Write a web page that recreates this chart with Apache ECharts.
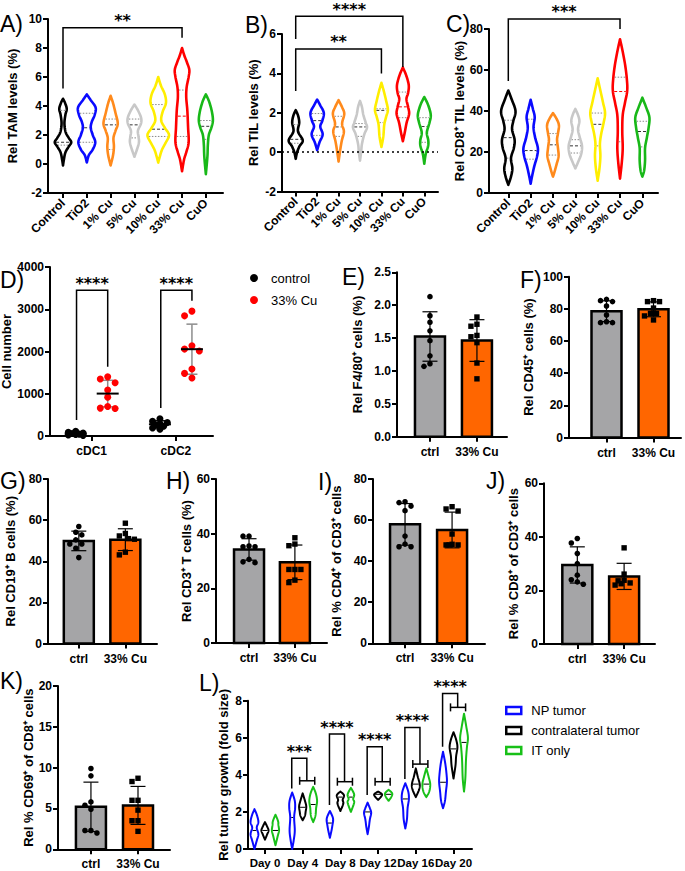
<!DOCTYPE html>
<html><head><meta charset="utf-8">
<script src="https://cdn.jsdelivr.net/npm/echarts@6/dist/echarts.min.js"></script>
<style>html,body{margin:0;padding:0;background:#fff}#c{width:685px;height:871px}</style>
</head><body><div id="c"></div>
<script>
const FONT = '"Liberation Sans", Arial, Helvetica, sans-serif';

// ---------- Panels A-C: violin categories ----------
const violinCats = ['Control', 'TiO2', '1% Cu', '5% Cu', '10% Cu', '33% Cu', 'CuO'];
const violinColors = ['#000000', '#0a0aff', '#ff8a1c', '#c8c8c8', '#ffee00', '#ff0000', '#18b818'];

// violin outlines: [value, relative half-width]
const tamProfiles = [
  [[4.5,0],[4.2,0.19],[3.8,0.34],[3.4,0.22],[2.8,0.13],[2.2,0.24],[1.8,0.52],[1.5,0.75],[1.2,0.52],[0.8,0.22],[0.3,0.08],[-0.1,0]],
  [[4.8,0],[4.4,0.36],[3.9,0.8],[3.4,0.72],[2.9,0.45],[2.5,0.36],[2.0,0.54],[1.5,0.77],[1.0,0.54],[0.6,0.18],[0.1,0]],
  [[4.7,0],[4.2,0.22],[3.5,0.45],[2.8,0.65],[2.3,0.45],[1.8,0.26],[1.2,0.3],[0.6,0.22],[-0.1,0]],
  [[4.1,0],[3.7,0.32],[3.2,0.6],[2.8,0.6],[2.3,0.32],[1.9,0.37],[1.5,0.41],[1.0,0.23],[0.5,0]],
  [[6.0,0],[5.4,0.25],[4.8,0.6],[4.2,0.7],[3.6,0.4],[3.0,0.27],[2.5,0.6],[2.0,0.98],[1.5,0.7],[1.0,0.35],[0.5,0.14],[0.1,0]],
  [[8.0,0],[7.5,0.2],[7.0,0.45],[6.5,0.66],[6.0,0.6],[5.3,0.42],[4.6,0.38],[3.7,0.48],[2.5,0.55],[1.5,0.6],[0.8,0.38],[0.3,0.18],[-0.5,0]],
  [[4.8,0],[4.3,0.3],[3.6,0.55],[3.0,0.64],[2.5,0.5],[2.0,0.27],[1.3,0.18],[0.5,0.14],[-0.7,0]]
];
const tamMedian = [1.5, 2.5, 2.7, 2.7, 2.4, 3.3, 2.6];
const tamQ1 = [1.3, 1.5, 1.0, 1.8, 1.9, 1.9, 1.7];
const tamQ3 = [3.7, 3.5, 3.1, 3.1, 4.1, 5.1, 3.0];

const tilProfiles = [
  [[2.13,0],[1.85,0.25],[1.5,0.37],[1.05,0.24],[0.6,0.74],[0.3,0.4],[0.0,0.15],[-0.34,0]],
  [[2.67,0],[2.4,0.3],[2.0,0.7],[1.6,0.55],[1.3,0.33],[0.9,0.58],[0.5,0.25],[0.1,0]],
  [[2.64,0],[2.3,0.35],[1.95,0.6],[1.45,0.37],[1.05,0.56],[0.6,0.35],[0.2,0.2],[-0.48,0]],
  [[2.6,0],[2.3,0.2],[1.9,0.35],[1.5,0.6],[1.25,0.74],[0.9,0.45],[0.4,0.2],[0.0,0.12],[-0.43,0]],
  [[3.52,0],[3.1,0.25],[2.6,0.5],[2.15,0.68],[1.8,0.5],[1.4,0.3],[0.8,0.2],[0.26,0]],
  [[4.3,0],[3.9,0.35],[3.4,0.62],[3.0,0.55],[2.7,0.38],[2.3,0.55],[1.95,0.66],[1.5,0.4],[1.0,0.2],[0.55,0]],
  [[2.8,0],[2.4,0.4],[1.9,0.68],[1.5,0.55],[1.0,0.27],[0.6,0.42],[0.3,0.4],[-0.1,0.15],[-0.59,0]]
];
const tilMedian = [0.65, 1.6, 1.28, 1.28, 2.12, 2.3, 1.3];
const tilQ1 = [0.45, 0.85, 0.8, 0.8, 1.5, 1.75, 0.5];
const tilQ3 = [1.4, 1.96, 1.82, 1.45, 2.2, 3.05, 1.75];

const cd8Profiles = [
  [[50,0],[46,0.35],[40,0.8],[35,0.55],[31,0.42],[26,0.7],[22,0.62],[17,0.3],[12,0.45],[8,0.3],[4,0]],
  [[45.5,0],[41,0.25],[37,0.45],[32,0.32],[27,0.5],[22,0.8],[18,0.72],[13,0.4],[8,0.15],[4.5,0]],
  [[39,0],[36,0.42],[33,0.66],[29,0.55],[26,0.45],[22,0.55],[18,0.62],[14,0.4],[10,0.15],[8,0]],
  [[41,0],[38,0.3],[35,0.45],[31,0.3],[27,0.5],[23,0.74],[19,0.65],[15,0.3],[12,0]],
  [[56,0],[50,0.3],[44,0.6],[39,0.82],[34,0.65],[29,0.4],[24,0.25],[18,0.3],[12,0.2],[6,0]],
  [[75,0],[70,0.25],[63,0.55],[56,0.75],[50,0.8],[44,0.55],[38,0.3],[30,0.25],[22,0.3],[15,0.2],[7,0]],
  [[46.5,0],[42,0.4],[37,0.78],[32,0.7],[27,0.5],[22,0.3],[16,0.3],[11,0.2],[8,0]]
];
const cd8Median = [27, 20.7, 23.5, 23, 33.5, 49.5, 30];
const cd8Q1 = [17, 16.5, 18.5, 19.5, 23, 25, 22.5];
const cd8Q3 = [35.5, 36, 29, 26, 39, 56.5, 35];

// ---------- Panel D ----------
const dcCats = ['cDC1', 'cDC2'];
const dcControl = [[110, 90, 70, 60, 45, 35, 25, 15], [410, 350, 320, 290, 260, 230, 190, 160]];
const dcCu = [[1400, 1350, 1260, 1090, 920, 700, 660, 650], [2955, 2844, 2135, 2057, 2010, 1584, 1482, 1371]];

// ---------- Panels E-K ----------
const barCats = ['ctrl', '33% Cu'];
const f480Ctrl = [2.13, 1.84, 1.74, 1.61, 1.46, 1.23, 1.07, 1.11];
const f480Cu = [1.82, 1.71, 1.68, 1.54, 1.52, 1.43, 1.12, 0.88];
const cd45Ctrl = [85.9, 85.1, 84.5, 81.8, 76.2, 72.0, 71.4, 71.4];
const cd45Cu = [85.1, 84.5, 84.5, 80.5, 77.2, 77.2, 75.6, 73.1];
const cd19Ctrl = [56.9, 54.1, 52.8, 50.4, 48.4, 48.4, 46.3, 41.8];
const cd19Cu = [58.5, 53.5, 52.3, 51.0, 50.7, 44.4, 43.1];
const cd3Ctrl = [39.1, 39.1, 35.5, 35.2, 35.2, 30.6, 29.7, 29.4];
const cd3Cu = [38.5, 36.2, 35.6, 26.9, 26.9, 26.9, 23.0, 22.1];
const cd4Ctrl = [68.9, 68.5, 66.8, 64.6, 52.2, 48.3, 47.0, 47.0];
const cd4Cu = [66.5, 65.4, 64.4, 53.2, 48.2, 47.9, 47.9, 47.9];
const cd8of3Ctrl = [39.4, 37.7, 33.8, 30.0, 25.7, 24.0, 23.2, 22.3];
const cd8of3Cu = [35.9, 26.1, 23.8, 23.6, 22.8, 22.5, 22.0];
const cd69Ctrl = [9.9, 9.0, 5.8, 5.4, 4.9, 2.3, 2.3, 2.0];
const cd69Cu = [8.7, 8.3, 6.0, 6.0, 4.8, 3.5, 3.5, 2.2];

// ---------- Panel L ----------
const days = ['Day 0', 'Day 4', 'Day 8', 'Day 12', 'Day 16', 'Day 20'];
const growthGroups = ['NP tumor', 'contralateral tumor', 'IT only'];
const growthColors = ['#0a0aff', '#000000', '#18c018'];
const growthNP = [
  [[2.15,0],[1.8,0.4],[1.45,0.6],[1.15,0.35],[0.8,0.6],[0.45,0.35],[0.0,0]],
  [[3.05,0],[2.6,0.4],[2.2,0.45],[1.7,0.3],[1.0,0.4],[0.5,0.25],[0.0,0]],
  [[2.05,0],[1.75,0.4],[1.55,0.5],[1.3,0.4],[1.0,0.25],[0.6,0]],
  [[2.5,0],[2.2,0.35],[1.95,0.55],[1.6,0.35],[1.2,0.2],[0.8,0]],
  [[3.55,0],[3.1,0.45],[2.7,0.55],[2.2,0.35],[1.6,0.25],[1.1,0]],
  [[5.25,0],[4.6,0.35],[4.0,0.55],[3.6,0.6],[3.1,0.45],[2.6,0.3],[2.2,0]]
];
const growthContra = [
  [[1.45,0],[1.2,0.35],[1.0,0.55],[0.8,0.35],[0.5,0]],
  [[3.0,0],[2.6,0.35],[2.3,0.55],[2.0,0.45],[1.8,0.35],[1.55,0]],
  [[3.1,0],[2.9,0.55],[2.65,0.35],[2.45,0.45],[2.05,0]],
  [[3.1,0],[2.95,0.6],[2.8,0.4],[2.65,0]],
  [[4.35,0],[3.9,0.3],[3.5,0.6],[3.2,0.5],[2.8,0]],
  [[6.3,0],[5.9,0.4],[5.5,0.6],[5.0,0.4],[4.5,0.3],[3.8,0]]
];
const growthIT = [
  [[1.85,0],[1.5,0.4],[1.3,0.45],[1.0,0.55],[0.7,0.35],[0.2,0]],
  [[3.35,0],[3.0,0.4],[2.6,0.6],[2.2,0.45],[1.8,0.35],[1.45,0]],
  [[3.3,0],[2.95,0.5],[2.7,0.35],[2.5,0.5],[2.0,0]],
  [[3.2,0],[3.0,0.55],[2.8,0.4],[2.6,0]],
  [[4.35,0],[3.9,0.35],[3.5,0.6],[3.1,0.45],[2.8,0]],
  [[7.3,0],[6.6,0.35],[6.0,0.6],[5.5,0.45],[4.8,0.3],[3.8,0.2],[3.1,0]]
];
const growthNPMed = [1.0, 1.7, 1.4, 2.0, 2.7, 3.6];
const growthContraMed = [1.0, 2.25, 2.8, 2.95, 3.5, 5.4];
const growthITMed = [1.0, 2.4, 2.8, 2.95, 3.5, 5.75];

// significance brackets
const sigA = [{x0: 0, x1: 5, y0: 5.2, top: 9.4, y1: 8.7, label: '**'}];
const sigB = [{x0: 0, x1: 5, y0: 5.75, top: 6.9, y1: 4.32, label: '****'},
              {x0: 0, x1: 4, y0: 3.1, top: 5.24, y1: 4.0, label: '**'}];
const sigC = [{x0: 0, x1: 5, y0: 54.6, top: 84.9, y1: 80, label: '***'}];
const sigD = [{x0: 0.82, x1: 1.19, y0: 380, top: 3450, y1: 1640, label: '****'},
              {x0: 1.82, x1: 2.19, y0: 660, top: 3450, y1: 3200, label: '****'}];
const growthSigDays = [1, 2, 3, 4, 5];
const growthSigLabels = ['***', '****', '****', '****', '****'];
const growthSigLow = [3.27, 2.37, 2.91, 3.77, 5.52];
const growthSigTop = [4.89, 6.2, 5.52, 6.56, 8.39];
const growthSigCap = [3.68, 3.63, 3.63, 4.58, 7.64];

// ---------- helpers ----------
const mean = a => a.reduce((s, v) => s + v, 0) / a.length;
const sd = a => { const m = mean(a); return Math.sqrt(a.reduce((s, v) => s + (v - m) * (v - m), 0) / (a.length - 1)); };
function cr(p0, p1, p2, p3, t) {
  const t2 = t * t, t3 = t2 * t;
  return 0.5 * ((2 * p1) + (-p0 + p2) * t + (2 * p0 - 5 * p1 + 4 * p2 - p3) * t2 + (-p0 + 3 * p1 - 3 * p2 + p3) * t3);
}
function smoothOutline(pts) {
  const out = [], n = pts.length;
  for (let i = 0; i < n - 1; i++) {
    const p0 = pts[Math.max(i - 1, 0)], p1 = pts[i], p2 = pts[i + 1], p3 = pts[Math.min(i + 2, n - 1)];
    for (let s = 0; s < 10; s++) {
      const t = s / 10;
      out.push([Math.max(0, cr(p0[0], p1[0], p2[0], p3[0], t)), cr(p0[1], p1[1], p2[1], p3[1], t)]);
    }
  }
  out.push(pts[n - 1]);
  return out;
}
function widthAt(dense, y) {
  for (let i = 0; i < dense.length - 1; i++) {
    const a = dense[i], b = dense[i + 1];
    if ((y >= a[1] && y <= b[1]) || (y <= a[1] && y >= b[1])) {
      const t = b[1] === a[1] ? 0 : (y - a[1]) / (b[1] - a[1]);
      return a[0] + (b[0] - a[0]) * t;
    }
  }
  return 0;
}
// compact dot arrangement limited to +-spread px; overlaps allowed when crowded
function swarm(ys, d, spread) {
  const order = ys.map((y, i) => i).sort((a, b) => ys[a] - ys[b]);
  const xs = new Array(ys.length).fill(0);
  const placed = [];
  const cands = [0];
  for (let k = 1; k * d / 2 <= spread + 0.01; k++) cands.push(-k * d / 2, k * d / 2);
  order.forEach(i => {
    let best = 0, bestScore = -1;
    for (const c of cands) {
      const md = placed.length ? Math.min(...placed.map(p => Math.hypot(p[0] - c, p[1] - ys[i]))) : Infinity;
      if (md >= d * 0.97) { best = c; bestScore = Infinity; break; }
      if (md > bestScore + 0.3) { best = c; bestScore = md; }
    }
    xs[i] = best; placed.push([best, ys[i]]);
  });
  return xs;
}

// ---------- layout ----------
const G = [
  {l: 48, t: 19, w: 175, h: 174, xmin: -0.63, xmax: 6.72},
  {l: 282, t: 34, w: 156, h: 157.5, xmin: -0.64, xmax: 6.64},
  {l: 489, t: 29, w: 169, h: 164, xmin: -0.864, xmax: 6.70},
  {l: 50, t: 267, w: 163, h: 169, xmin: 0.505, xmax: 2.44},
  {l: 397, t: 272.3, w: 110, h: 164.4, xmin: 0.298, xmax: 2.64},
  {l: 569, t: 276.7, w: 112, h: 160.8, xmin: 0.202, xmax: 2.585},
  {l: 48, t: 479, w: 109, h: 164.5, xmin: 0.338, xmax: 2.68},
  {l: 216, t: 479, w: 111, h: 164, xmin: 0.28, xmax: 2.70},
  {l: 373, t: 479, w: 112, h: 164.3, xmin: 0.319, xmax: 2.70},
  {l: 544, t: 483.3, w: 111, h: 160.7, xmin: 0.288, xmax: 2.66},
  {l: 58, t: 686, w: 112, h: 163.3, xmin: 0.30, xmax: 2.68},
  {l: 248, t: 700.7, w: 224, h: 148.3, xmin: -0.45, xmax: 5.49}
];
const grids = G.map(g => ({left: g.l, top: g.t, width: g.w, height: g.h, containLabel: false, outerBoundsMode: 'none'}));

const labelStyle = {color: '#000', fontWeight: 'bold', fontSize: 12, fontFamily: FONT};
function xAx(gi, ticks, labels, rotate, margin, fontSize) {
  const g = G[gi];
  return {gridIndex: gi, type: 'value', min: g.xmin, max: g.xmax,
    axisLine: {show: true, onZero: false, lineStyle: {color: '#000', width: 2}},
    axisTick: {show: true, customValues: ticks, length: 5, lineStyle: {color: '#000', width: 2}},
    axisLabel: Object.assign({}, labelStyle, {show: true, customValues: ticks, rotate: rotate || 0, margin: margin,
      showMinLabel: true, showMaxLabel: true, hideOverlap: false, fontSize: fontSize || 12,
      formatter: v => { const k = ticks.findIndex(t => Math.abs(t - v) < 1e-6); return k >= 0 ? labels[k] : ''; }}),
    splitLine: {show: false}};
}
function yAx(gi, min, max, interval, name, gap, fmt) {
  return {gridIndex: gi, type: 'value', min, max, interval,
    axisLine: {show: true, onZero: false, lineStyle: {color: '#000', width: 2}},
    axisTick: {show: true, length: 5, lineStyle: {color: '#000', width: 2}},
    axisLabel: Object.assign({margin: 6, showMinLabel: true, showMaxLabel: true, formatter: fmt || (v => String(v))}, labelStyle),
    splitLine: {show: false},
    name, nameLocation: 'middle', nameGap: gap,
    nameTextStyle: {color: '#000', fontWeight: 'bold', fontSize: 13, fontFamily: FONT}};
}
const vIdx = violinCats.map((c, i) => i);
const dayIdx = days.map((d, i) => i);
const xAxes = [
  xAx(0, vIdx, violinCats, 45, 8),
  xAx(1, vIdx, violinCats, 45, 8),
  xAx(2, vIdx, violinCats, 45, 8),
  xAx(3, [1, 2], dcCats, 0, 9),
  xAx(4, [1, 2], barCats, 0, 9),
  xAx(5, [1, 2], barCats, 0, 9),
  xAx(6, [1, 2], barCats, 0, 9),
  xAx(7, [1, 2], barCats, 0, 9),
  xAx(8, [1, 2], barCats, 0, 9),
  xAx(9, [1, 2], barCats, 0, 9),
  xAx(10, [1, 2], barCats, 0, 9),
  xAx(11, dayIdx, days, 0, 8, 11.5)
];
const yAxes = [
  yAx(0, -2, 10, 2, 'Rel TAM levels (%)', 29),
  yAx(1, -2, 6, 2, 'Rel TIL levels (%)', 22),
  yAx(2, 0, 80, 20, 'Rel CD8⁺ TIL levels (%)', 21),
  yAx(3, 0, 4000, 1000, 'Cell number', 34),
  yAx(4, 0, 2.5, 0.5, 'Rel F4/80⁺ cells (%)', 33, v => v.toFixed(1)),
  yAx(5, 0, 100, 20, 'Rel CD45⁺ cells (%)', 34),
  yAx(6, 0, 80, 20, 'Rel CD19⁺ B cells (%)', 31),
  yAx(7, 0, 60, 20, 'Rel CD3⁺ T cells (%)', 21),
  yAx(8, 0, 80, 20, 'Rel % CD4⁺ of CD3⁺ cells', 30),
  yAx(9, 0, 60, 20, 'Rel % CD8⁺ of CD3⁺ cells', 24),
  yAx(10, 0, 20, 5, 'Rel % CD69⁺ of CD8⁺ cells', 23),
  yAx(11, 0, 8, 2, 'Rel tumor growth (fold size)', 18)
];

// ---------- series factories ----------
function violinSeries(o) {
  return {
    type: 'custom', name: o.name, xAxisIndex: o.gi, yAxisIndex: o.gi, clip: false, silent: true, z: 3,
    itemStyle: {color: o.legendColor || '#000'},
    data: o.xs.map((x, i) => [x, o.med[i]]),
    markLine: o.markLine,
    renderItem(params, api) {
      const i = params.dataIndex, x = o.xs[i], color = o.colors[i];
      const cx = api.coord([x, 0])[0] + (o.offsetPx || 0);
      const pts = o.profiles[i].map(([v, w]) => [w * o.maxHalf, api.coord([x, v])[1]]);
      const dense = smoothOutline(pts);
      const right = dense.map(p => [cx + p[0], p[1]]);
      const left = dense.slice().reverse().map(p => [cx - p[0], p[1]]);
      const ch = [];
      const addLine = (v, style) => {
        const y = api.coord([x, v])[1];
        const w = widthAt(dense, y) - o.lw / 2;
        if (w > 0.8) ch.push({type: 'line', shape: {x1: cx - w, y1: y, x2: cx + w, y2: y}, style});
      };
      if (o.q1) {
        addLine(o.q1[i], {stroke: '#8a8a8a', lineWidth: 1, lineDash: [1.5, 1.5]});
        addLine(o.q3[i], {stroke: '#8a8a8a', lineWidth: 1, lineDash: [1.5, 1.5]});
        addLine(o.med[i], {stroke: color === '#ff0000' ? '#ff0000' : '#333', lineWidth: 1, lineDash: [3, 2]});
      } else {
        addLine(o.med[i], {stroke: '#000', lineWidth: 1});
      }
      ch.push({type: 'polygon', shape: {points: right.concat(left)}, style: {fill: 'none', stroke: color, lineWidth: o.lw, lineJoin: 'round'}});
      return {type: 'group', children: ch};
    }
  };
}
function bracketSeries(gi, list) {
  return {
    type: 'custom', xAxisIndex: gi, yAxisIndex: gi, clip: false, silent: true, z: 6,
    data: list.map(b => [b.x0, b.y0]),
    renderItem(params, api) {
      const b = list[params.dataIndex];
      const p = (x, y) => api.coord([x, y]);
      const pts = [p(b.x0, b.y0), p(b.x0, b.top), p(b.x1, b.top), p(b.x1, b.y1)];
      const ch = [{type: 'polyline', shape: {points: pts}, style: {stroke: '#000', lineWidth: 1.5, fill: 'none'}}];
      if (b.cap) {
        const a = p(b.cap[0], b.y1), c = p(b.cap[1], b.y1);
        ch.push({type: 'line', shape: {x1: a[0], y1: a[1], x2: c[0], y2: c[1]}, style: {stroke: '#000', lineWidth: 1.5}});
        [a, c].forEach(q => ch.push({type: 'line', shape: {x1: q[0], y1: q[1] - 4, x2: q[0], y2: q[1] + 4}, style: {stroke: '#000', lineWidth: 1.5}}));
      }
      ch.push({type: 'text', x: (pts[1][0] + pts[2][0]) / 2, y: pts[1][1] - 7,
        style: {text: b.label, fontFamily: '"DejaVu Sans", sans-serif', fontWeight: 'bold', fontSize: 16, lineHeight: 11, fill: '#000', align: 'center', verticalAlign: 'middle'}});
      return {type: 'group', children: ch};
    }
  };
}
const barColors = ['#a5a5a7', '#ff6600'];
function barSeries(gi, ctrl, cu) {
  const groups = [ctrl, cu];
  return {
    type: 'custom', xAxisIndex: gi, yAxisIndex: gi, clip: false, silent: true, z: 3,
    data: groups.map((v, i) => [i + 1, mean(v)]),
    renderItem(params, api) {
      const i = params.dataIndex, vals = groups[i], x = i + 1;
      const m = mean(vals), s = sd(vals);
      const [cx, ym] = api.coord([x, m]);
      const y0 = api.coord([x, 0])[1];
      const yt = api.coord([x, m + s])[1], yb = api.coord([x, m - s])[1];
      const ys = vals.map(v => api.coord([x, v])[1]);
      const xo = swarm(ys, 6, 10);
      const ch = [
        {type: 'rect', shape: {x: cx - 15, y: ym, width: 30, height: y0 - ym}, style: {fill: barColors[i], stroke: '#000', lineWidth: 2.5}},
        {type: 'line', shape: {x1: cx, y1: yt, x2: cx, y2: yb}, style: {stroke: '#000', lineWidth: 1.2}},
        {type: 'line', shape: {x1: cx - 7.5, y1: yt, x2: cx + 7.5, y2: yt}, style: {stroke: '#000', lineWidth: 1.2}},
        {type: 'line', shape: {x1: cx - 7.5, y1: yb, x2: cx + 7.5, y2: yb}, style: {stroke: '#000', lineWidth: 1.2}}
      ];
      ys.forEach((y, k) => {
        if (i === 0) ch.push({type: 'circle', shape: {cx: cx + xo[k], cy: y, r: 2.8}, style: {fill: '#000'}});
        else ch.push({type: 'rect', shape: {x: cx + xo[k] - 2.7, y: y - 2.7, width: 5.4, height: 5.4}, style: {fill: '#000'}});
      });
      return {type: 'group', children: ch};
    }
  };
}
function dcSeries(name, groups, color, side, errColor) {
  return {
    type: 'custom', name, xAxisIndex: 3, yAxisIndex: 3, clip: false, silent: true, z: 4,
    itemStyle: {color},
    data: groups.map((v, i) => [i + 1, mean(v)]),
    renderItem(params, api) {
      const i = params.dataIndex, vals = groups[i], x = i + 1;
      const m = mean(vals), s = sd(vals);
      const cx = api.coord([x, 0])[0] + side;
      const ym = api.coord([x, m])[1], yt = api.coord([x, m + s])[1], yb = api.coord([x, Math.max(m - s, 0)])[1];
      const ys = vals.map(v => api.coord([x, v])[1]);
      const xo = swarm(ys, 7.4, 10);
      const ch = [
        {type: 'line', shape: {x1: cx, y1: yt, x2: cx, y2: yb}, style: {stroke: errColor, lineWidth: 1.5}},
        {type: 'line', shape: {x1: cx - 5.5, y1: yt, x2: cx + 5.5, y2: yt}, style: {stroke: errColor, lineWidth: 1.5}},
        {type: 'line', shape: {x1: cx - 5.5, y1: yb, x2: cx + 5.5, y2: yb}, style: {stroke: errColor, lineWidth: 1.5}}
      ];
      ys.forEach((y, k) => ch.push({type: 'circle', shape: {cx: cx + xo[k], cy: y, r: 3.5}, style: {fill: color}}));
      ch.push({type: 'line', shape: {x1: cx - 11, y1: ym, x2: cx + 11, y2: ym}, style: {stroke: '#000', lineWidth: 2}});
      return {type: 'group', children: ch};
    }
  };
}

const sigL = growthSigDays.map((d, k) => ({
  x0: d - 0.29, x1: d + 0.11, y0: growthSigLow[k], top: growthSigTop[k], y1: growthSigCap[k],
  cap: [d - 0.08, d + 0.32], label: growthSigLabels[k]
}));

const series = [
  violinSeries({gi: 0, xs: vIdx, profiles: tamProfiles, med: tamMedian, q1: tamQ1, q3: tamQ3, colors: violinColors, maxHalf: 11, lw: 2.6}),
  bracketSeries(0, sigA),
  violinSeries({gi: 1, xs: vIdx, profiles: tilProfiles, med: tilMedian, q1: tilQ1, q3: tilQ3, colors: violinColors, maxHalf: 9.5, lw: 2.6,
    markLine: {silent: true, symbol: ['none', 'none'], label: {show: false}, lineStyle: {color: '#000', type: [2, 3], width: 1.5}, data: [{yAxis: 0}]}}),
  bracketSeries(1, sigB),
  violinSeries({gi: 2, xs: vIdx, profiles: cd8Profiles, med: cd8Median, q1: cd8Q1, q3: cd8Q3, colors: violinColors, maxHalf: 9, lw: 2.6}),
  bracketSeries(2, sigC),
  dcSeries('control', dcControl, '#000000', -16, '#000'),
  dcSeries('33% Cu', dcCu, '#ff0000', 16, '#8c8c8c'),
  bracketSeries(3, sigD),
  barSeries(4, f480Ctrl, f480Cu),
  barSeries(5, cd45Ctrl, cd45Cu),
  barSeries(6, cd19Ctrl, cd19Cu),
  barSeries(7, cd3Ctrl, cd3Cu),
  barSeries(8, cd4Ctrl, cd4Cu),
  barSeries(9, cd8of3Ctrl, cd8of3Cu),
  barSeries(10, cd69Ctrl, cd69Cu),
  violinSeries({gi: 11, name: growthGroups[0], legendColor: growthColors[0], xs: dayIdx, profiles: growthNP, med: growthNPMed, colors: days.map(() => growthColors[0]), maxHalf: 6.5, lw: 2, offsetPx: -10.5}),
  violinSeries({gi: 11, name: growthGroups[1], legendColor: growthColors[1], xs: dayIdx, profiles: growthContra, med: growthContraMed, colors: days.map(() => growthColors[1]), maxHalf: 6.5, lw: 2, offsetPx: 0}),
  violinSeries({gi: 11, name: growthGroups[2], legendColor: growthColors[2], xs: dayIdx, profiles: growthIT, med: growthITMed, colors: days.map(() => growthColors[2]), maxHalf: 6.5, lw: 2, offsetPx: 10.5}),
  bracketSeries(11, sigL)
];

const letterPos = [['A)', 0, 12], ['B)', 245, 13], ['C)', 446, 12], ['D)', 0, 268], ['E)', 342, 265], ['F)', 520, 268],
  ['G)', 0, 469], ['H)', 166, 469], ['I)', 318, 470], ['J)', 486, 469], ['K)', 0, 669], ['L)', 199, 671]];

const option = {
  animation: false,
  backgroundColor: '#fff',
  grid: grids,
  xAxis: xAxes,
  yAxis: yAxes,
  legend: [
    {orient: 'vertical', left: 250, top: 270, padding: 0, itemWidth: 16, itemHeight: 8, itemGap: 6, selectedMode: false,
      textStyle: {fontSize: 13, fontFamily: FONT, color: '#000', lineHeight: 16, padding: [0, 0, 0, 4]},
      data: [{name: 'control', icon: 'circle'}, {name: '33% Cu', icon: 'circle'}]},
    {orient: 'vertical', left: 505, top: 702.5, padding: 0, itemWidth: 15, itemHeight: 7, itemGap: 4, selectedMode: false,
      textStyle: {fontSize: 13, fontFamily: FONT, color: '#000', lineHeight: 16, padding: [0, 0, 0, 5]},
      data: growthGroups.map((n, k) => ({name: n, icon: 'rect', itemStyle: {color: '#fff', borderColor: growthColors[k], borderWidth: 2.5}}))}
  ],
  graphic: letterPos.map(([t, x, y]) => ({type: 'text', left: x, top: y, silent: true,
    style: {text: t, fontSize: 23, fontFamily: FONT, fill: '#000'}})),
  series
};
const chart = echarts.init(document.getElementById('c'), null, {renderer: 'svg', width: 685, height: 871});
chart.setOption(option);
</script></body></html>
